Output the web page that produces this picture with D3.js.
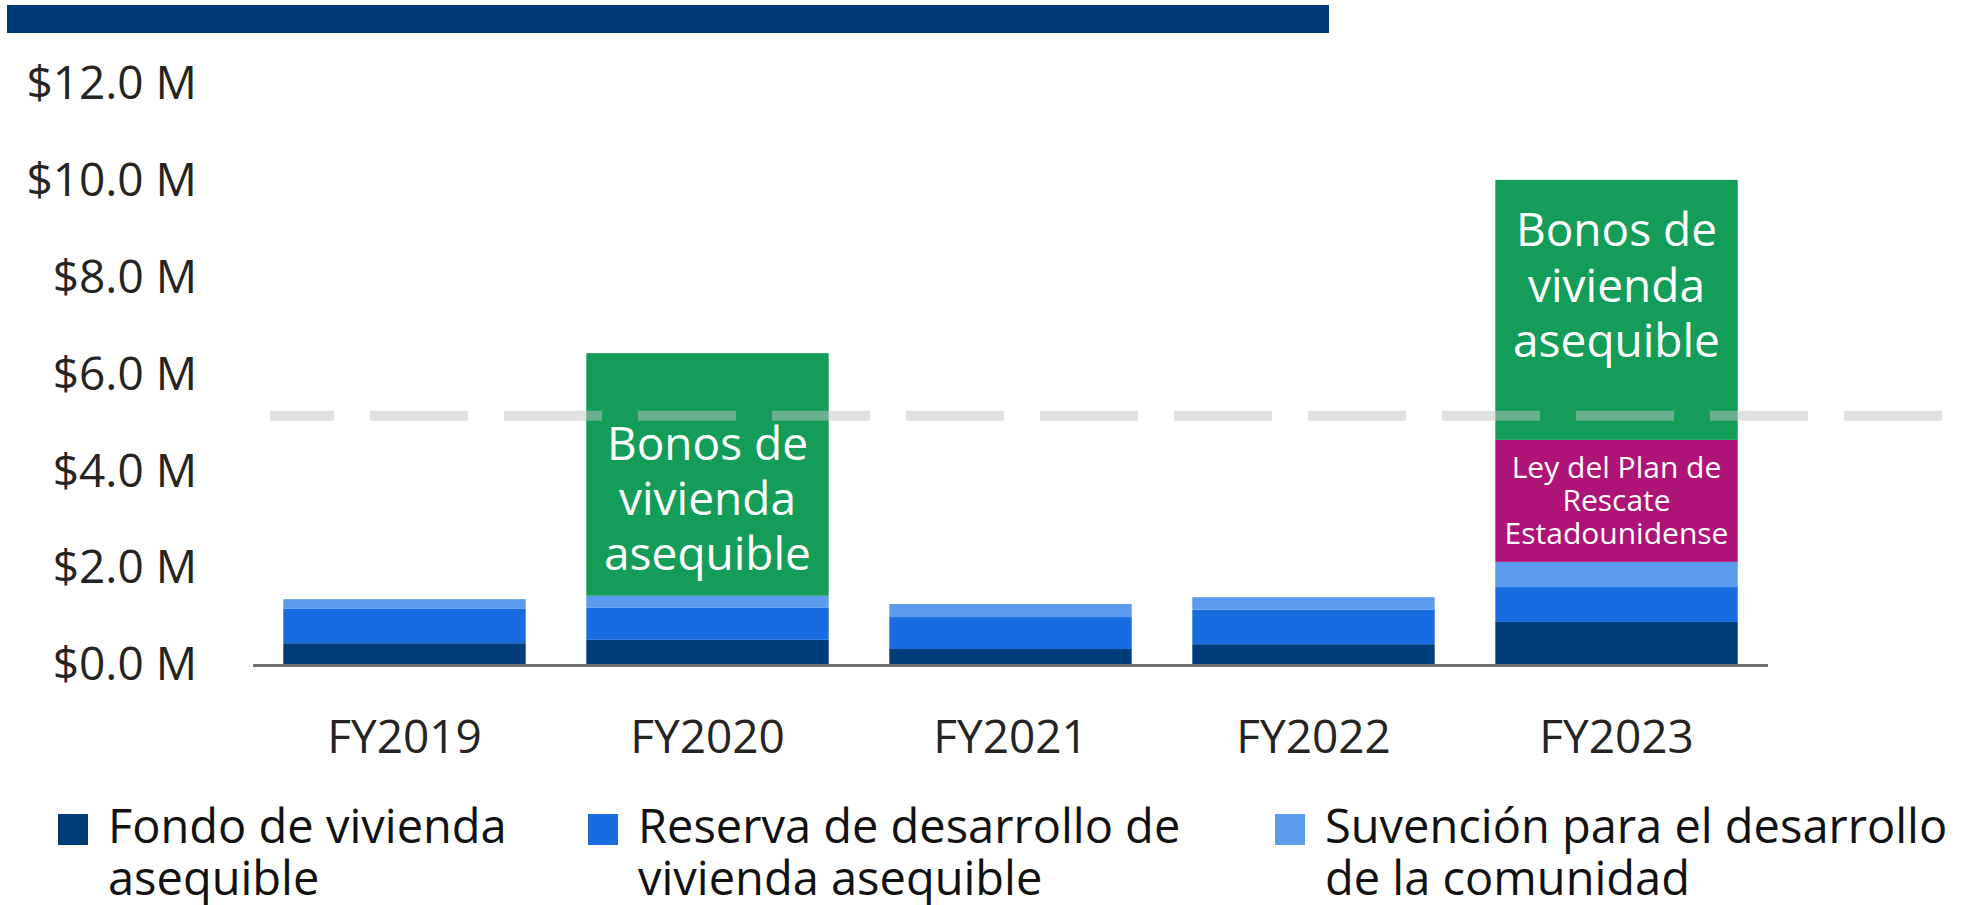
<!DOCTYPE html>
<html lang="es">
<head>
    <meta charset="UTF-8">
    <title>Fondos de vivienda asequible</title>
    <style>
        body {
            margin: 0;
            background: #ffffff;
        }
        svg text {
            font-family: "Open Sans", "Noto Sans", sans-serif;
        }
    </style>
</head>
<body>
<div id="chart"></div>

<script src="https://d3js.org/d3.v7.min.js"></script>
<script>
    // valores, en millones de dolares
    const years = ["FY2019", "FY2020", "FY2021", "FY2022", "FY2023"];
    const fondo = [0.45, 0.52, 0.33, 0.43, 0.89];
    const reserva = [0.71, 0.66, 0.66, 0.71, 0.72];
    const suvencion = [0.20, 0.25, 0.27, 0.26, 0.52];
    const rescate = [0, 0, 0, 0, 2.52];
    const bonos = [0, 5.01, 0, 0, 5.37];
    const yTicks = [0, 2, 4, 6, 8, 10, 12];
    const threshold = 5.15;

    const seriesKeys = ["fondo", "reserva", "suvencion", "rescate", "bonos"];
    const colors = ["#003b7a", "#176de0", "#5b9aec", "#ae1478", "#139d59"];

    // etiquetas dentro de las barras (labelAt = centro del texto en millones)
    const barLabels = [
        { year: "FY2020", lines: ["Bonos de", "vivienda", "asequible"], labelAt: 3.43, size: 46, lead: 1.2 },
        { year: "FY2023", lines: ["Bonos de", "vivienda", "asequible"], labelAt: 7.84, size: 46, lead: 1.2 },
        { year: "FY2023", lines: ["Ley del Plan de", "Rescate", "Estadounidense"], labelAt: 3.39, size: 30, lead: 1.1 }
    ];

    const legendItems = [
        { key: "fondo", lines: ["Fondo de vivienda", "asequible"] },
        { key: "reserva", lines: ["Reserva de desarrollo de", "vivienda asequible"] },
        { key: "suvencion", lines: ["Suvención para el desarrollo", "de la comunidad"] }
    ];

    const width = 1969, height = 905;

    const svg = d3.select("#chart").append("svg")
        .attr("width", width)
        .attr("height", height);

    svg.append("rect").attr("width", width).attr("height", height).attr("fill", "#fff");

    // franja azul de arriba
    svg.append("rect")
        .attr("x", 7).attr("y", 5)
        .attr("width", 1322).attr("height", 28)
        .attr("fill", "#003a78");

    const data = years.map((y, i) => ({
        year: y, fondo: fondo[i], reserva: reserva[i], suvencion: suvencion[i],
        rescate: rescate[i], bonos: bonos[i]
    }));

    const x = d3.scaleBand().domain(years).range([253, 1768])
        .paddingInner(0.2).paddingOuter(0.1);
    const y = d3.scaleLinear().domain([0, 12]).range([665, 84]);
    const color = d3.scaleOrdinal(seriesKeys, colors);

    const layers = d3.stack().keys(seriesKeys)(data);

    svg.append("g")
        .selectAll("g")
        .data(layers)
        .join("g")
        .attr("fill", d => color(d.key))
        .selectAll("rect")
        .data(d => d.filter(p => p[1] - p[0] > 0))
        .join("rect")
        .attr("x", d => x(d.data.year))
        .attr("y", d => y(d[1]))
        .attr("width", x.bandwidth())
        .attr("height", d => y(d[0]) - y(d[1]));

    // linea de referencia discontinua
    svg.append("line")
        .attr("x1", 270).attr("x2", 1947)
        .attr("y1", y(threshold)).attr("y2", y(threshold))
        .attr("stroke", "#c4c4c4")
        .attr("stroke-opacity", 0.5)
        .attr("stroke-width", 10)
        .attr("stroke-dasharray", "98,36")
        .attr("stroke-dashoffset", 34);

    // textos dentro de las barras
    barLabels.forEach(lab => {
        const lh = lab.size * lab.lead;
        const cx = x(lab.year) + x.bandwidth() / 2;
        const top = y(lab.labelAt) - lh * (lab.lines.length - 1) / 2;
        const t = svg.append("text")
            .attr("text-anchor", "middle")
            .attr("fill", "#fff")
            .style("font-size", lab.size + "px");
        lab.lines.forEach((line, i) => {
            t.append("tspan")
                .attr("x", cx)
                .attr("y", top + i * lh)
                .attr("dy", "0.35em")
                .text(line);
        });
    });

    // eje x
    svg.append("line")
        .attr("x1", 253).attr("x2", 1768)
        .attr("y1", 665.5).attr("y2", 665.5)
        .attr("stroke", "#6f6f6f")
        .attr("stroke-width", 3);

    const xAxis = svg.append("g")
        .attr("transform", "translate(0,665)")
        .call(d3.axisBottom(x).tickSize(0).tickPadding(55));
    xAxis.select(".domain").remove();
    xAxis.selectAll("text")
        .style("font-size", "46px")
        .attr("fill", "#252423");

    // eje y
    const yAxis = svg.append("g")
        .attr("transform", "translate(209,0)")
        .call(d3.axisLeft(y).tickValues(yTicks).tickSize(0).tickPadding(12)
            .tickFormat(d => "$" + d3.format(".1f")(d) + " M"));
    yAxis.select(".domain").remove();
    yAxis.selectAll("text")
        .style("font-size", "46px")
        .attr("fill", "#252423");

    // leyenda
    const legendX = [58, 588, 1275];
    const legend = svg.append("g");
    legendItems.forEach((item, i) => {
        const g = legend.append("g").attr("transform", `translate(${legendX[i]},814)`);
        g.append("rect")
            .attr("width", 30).attr("height", 31)
            .attr("fill", color(item.key));
        item.lines.forEach((line, j) => {
            g.append("text")
                .attr("fill", "#111")
                .style("font-size", "47px")
                .attr("x", 50)
                .attr("y", 29 + j * 52)
                .text(line);
        });
    });
</script>
</body>
</html>
